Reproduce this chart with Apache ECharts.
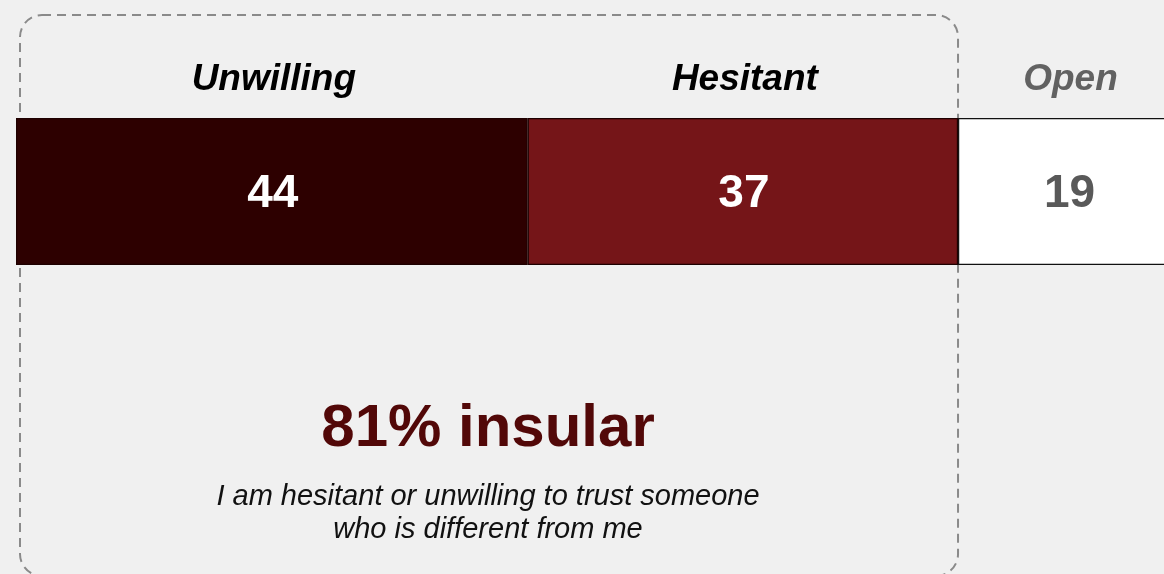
<!DOCTYPE html>
<html>
<head>
<meta charset="utf-8">
<script src="https://cdn.jsdelivr.net/npm/echarts@6/dist/echarts.min.js"></script>
<style>
html,body{margin:0;padding:0;background:#f0f0f0;}
#chart{width:1164px;height:574px;}
</style>
</head>
<body>
<div id="chart"></div>
<script>
var categories = ['Unwilling', 'Hesitant', 'Open'];
var values = [44, 37, 19];
var segmentColors = ['#2d0000', '#751518', '#ffffff'];
var headerColors = ['#000000', '#000000', '#626262'];
var valueColors = ['#ffffff', '#ffffff', '#595959'];
var headline = '81% insular';
var subline = 'I am hesitant or unwilling to trust someone\nwho is different from me';

var FONT = 'Liberation Sans';

var centers = [];
var acc = 0;
for (var i = 0; i < values.length; i++) {
  centers.push(acc + values[i] / 2);
  acc += values[i];
}

var series = categories.map(function (name, i) {
  return {
    name: name,
    type: 'bar',
    stack: 'total',
    barWidth: '100%',
    data: [values[i]],
    itemStyle: {
      color: segmentColors[i],
      borderColor: i === 2 ? '#111111' : '#1e0000',
      borderWidth: 1.2
    },
    label: {
      show: true,
      position: 'inside',
      offset: [1, 3],
      formatter: '{c}',
      color: valueColors[i],
      fontFamily: FONT,
      fontWeight: 'bold',
      fontSize: 46
    },
    silent: true
  };
});

series.push({
  type: 'scatter',
  symbolSize: 0,
  silent: true,
  itemStyle: { opacity: 1 },
  data: centers.map(function (c, i) {
    return { value: [c, 0], label: { color: headerColors[i] } };
  }),
  label: {
    show: true,
    position: 'inside',
    offset: [2, -112],
    formatter: function (p) { return categories[p.dataIndex]; },
    fontFamily: FONT,
    fontStyle: 'italic',
    fontWeight: 'bold',
    fontSize: 37,
    color: '#000',
    opacity: 1
  },
  z: 5
});

var chart = echarts.init(document.getElementById('chart'));
chart.setOption({
  backgroundColor: '#f0f0f0',
  animation: false,
  grid: { left: 16, width: 1163, top: 118, height: 147, containLabel: false, outerBoundsMode: 'none' },
  xAxis: { type: 'value', min: 0, max: 100, show: false },
  yAxis: { type: 'category', data: ['Trust'], show: false },
  series: series
});

var insular = values[0] + values[1];
var rightPx = chart.convertToPixel({ gridIndex: 0 }, [insular, 0])[0];
var boxLeft = 20, boxTop = 15, boxBottom = 576;
var cx = (boxLeft + rightPx) / 2;

chart.setOption({
  title: {
    text: headline,
    subtext: subline,
    left: cx - 6,
    top: 394,
    textAlign: 'center',
    itemGap: 21,
    textStyle: { fontFamily: FONT, fontWeight: 'bold', fontSize: 60, color: '#520808' },
    subtextStyle: { fontFamily: FONT, fontStyle: 'italic', fontSize: 29, color: '#111', lineHeight: 33, align: 'center' }
  },
  graphic: [{
    type: 'rect',
    z: -1,
    silent: true,
    shape: { x: boxLeft, y: boxTop, width: rightPx - boxLeft, height: boxBottom - boxTop, r: 22 },
    style: { fill: 'none', stroke: '#8a8a8a', lineWidth: 2, lineDash: [9, 6] }
  }]
});
</script>
</body>
</html>
